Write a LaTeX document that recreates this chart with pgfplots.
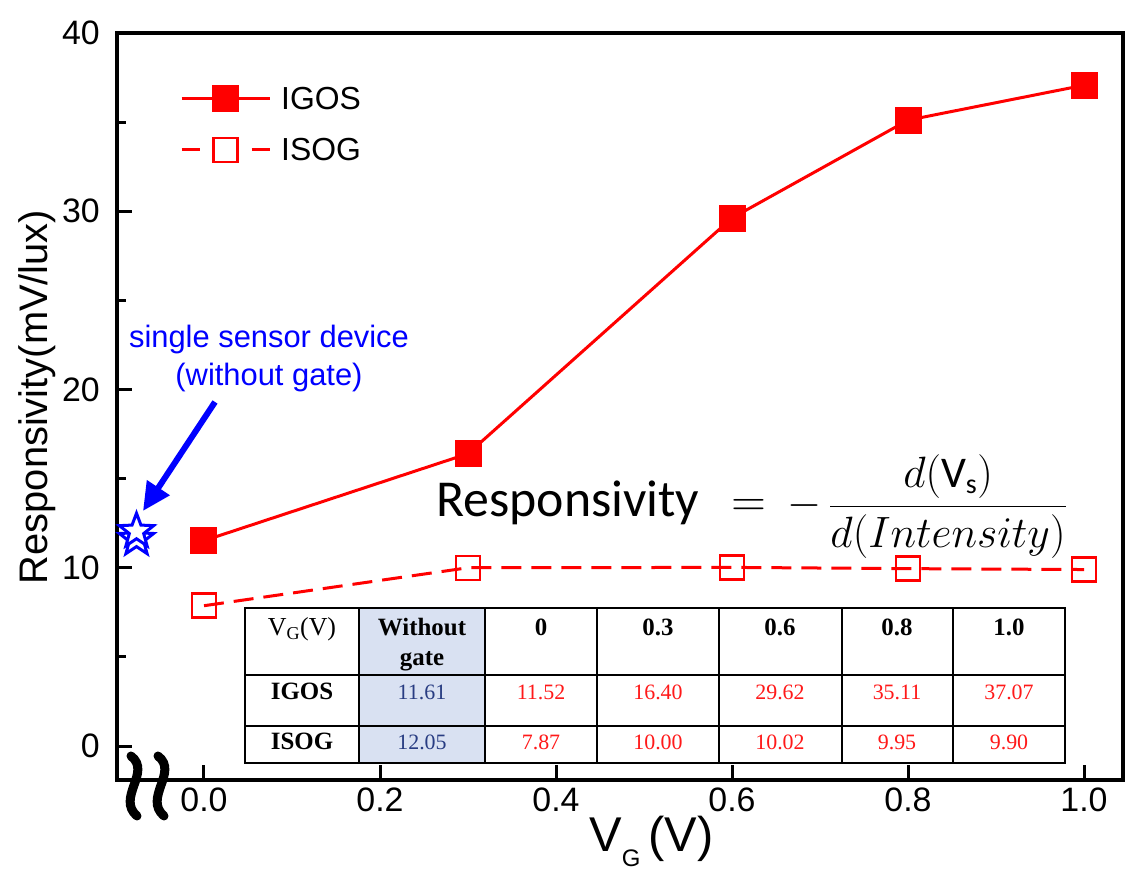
\RequirePackage{fix-cm}
\documentclass[border=0pt]{standalone}
\usepackage{fontspec}
\setmainfont{Liberation Sans}
\newfontfamily\tnr{Liberation Serif}
\newfontfamily\carlito{Carlito}
\usepackage{pgfplots}
\pgfplotsset{compat=1.18}
\usetikzlibrary{arrows.meta}

\definecolor{myred}{RGB}{255,0,0}
\definecolor{myblue}{RGB}{0,0,255}
\definecolor{cellblue}{RGB}{217,225,242}
\definecolor{darkval}{RGB}{40,60,130}
\definecolor{tabred}{RGB}{255,25,25}

\pgfdeclareplotmark{ostar}{%
  \pgfpathmoveto{\pgfpointpolar{90}{\pgfplotmarksize}}%
  \pgfpathlineto{\pgfpointpolar{126}{0.42\pgfplotmarksize}}%
  \pgfpathlineto{\pgfpointpolar{162}{\pgfplotmarksize}}%
  \pgfpathlineto{\pgfpointpolar{198}{0.42\pgfplotmarksize}}%
  \pgfpathlineto{\pgfpointpolar{234}{\pgfplotmarksize}}%
  \pgfpathlineto{\pgfpointpolar{270}{0.42\pgfplotmarksize}}%
  \pgfpathlineto{\pgfpointpolar{306}{\pgfplotmarksize}}%
  \pgfpathlineto{\pgfpointpolar{342}{0.42\pgfplotmarksize}}%
  \pgfpathlineto{\pgfpointpolar{18}{\pgfplotmarksize}}%
  \pgfpathlineto{\pgfpointpolar{54}{0.42\pgfplotmarksize}}%
  \pgfpathclose
  \pgfusepathqfillstroke
}

\begin{document}
\begin{tikzpicture}
\useasboundingbox (0,0) rectangle (1126bp,870bp);
\begin{axis}[
  at={(117bp,90bp)}, anchor=south west,
  width=1006bp, height=747bp, scale only axis,
  xmin=-0.09886, xmax=1.04432, ymin=-1.907, ymax=40,
  axis line style={line width=3.5bp},
  xtick={0,0.2,0.4,0.6,0.8,1.0},
  xticklabels={0.0,0.2,0.4,0.6,0.8,1.0},
  ytick={0,10,20,30,40},
  minor ytick={5,15,25,35},
  tick align=inside,
  xtick pos=left, ytick pos=left,
  major tick length=15bp, minor tick length=9bp,
  every tick/.style={black, line width=3bp},
  /pgf/number format/assume math mode=true,
  ticklabel style={font=\fontsize{34}{34}\selectfont},
  xticklabel style={inner sep=0pt, yshift=-8bp},
  yticklabel style={inner sep=0pt, xshift=-17bp},
  clip=false,
  legend cell align=left,
  legend style={at={(0.0626,0.928)}, anchor=north west, draw=none, fill=none,
    inner sep=0pt, row sep=27bp, column sep=10bp,
    font=\fontsize{32}{32}\selectfont, nodes={inner sep=0pt}},
  legend image code/.code={\draw[mark repeat=2, mark phase=2] plot coordinates {(0bp,0bp) (44bp,0bp) (88bp,0bp)};},
]
\addplot[myred, line width=3bp, mark=square*, mark size=12bp, mark options={solid}]
  coordinates {(0,11.52) (0.3,16.40) (0.6,29.62) (0.8,35.11) (1.0,37.07)};
\addlegendentry{IGOS}
\addplot[myred, line width=3bp, dash pattern=on 20bp off 10bp, mark=square, mark size=12bp,
  mark options={solid, fill=white, line width=2.5bp},
  legend image post style={dash pattern=on 18bp off 52bp}]
  coordinates {(0,7.87) (0.3,10.00) (0.6,10.02) (0.8,9.95) (1.0,9.90)};
\addlegendentry{ISOG}
\addplot[myblue, only marks, mark=ostar, mark size=18bp, mark options={fill=white, line width=3bp}, forget plot]
  coordinates {(-0.0767,11.61) (-0.0767,12.05)};
\end{axis}

\begin{scope}[shift={(0bp,870bp)}, x=1bp, y=-1bp]
% axis labels
\node[rotate=90, anchor=base, inner sep=0pt, font=\fontsize{40}{40}\selectfont] at (47,397) {Responsivity(mV/lux)};
\node[anchor=base west, inner sep=0pt, font=\fontsize{49}{49}\selectfont] at (589,852)
  {V\raisebox{-15bp}{\fontsize{24}{24}\selectfont G}\hspace{8bp}(V)};
% annotation
\node[anchor=base, inner sep=0pt, text=myblue, font=\fontsize{31}{31}\selectfont] at (269,348) {single sensor device};
\node[anchor=base, inner sep=0pt, text=myblue, font=\fontsize{31}{31}\selectfont] at (269,386) {(without gate)};
\draw[myblue, line width=6bp, -{Triangle[length=28bp, width=26bp]}] (215,402) -- (143,511);
% axis break marks
\draw[line width=9bp, line cap=round] (131,756) .. controls (152,772) and (116,798) .. (137,816);
\draw[line width=9bp, line cap=round] (158,756) .. controls (179,772) and (143,798) .. (164,816);
% equation
\node[anchor=base west, inner sep=0pt, font=\carlito\fontsize{52}{52}\selectfont] at (436,517)
  {Responsivity\hspace{32bp}{\fontsize{48}{48}\selectfont$=$}\hspace{22bp}{\fontsize{44}{44}\selectfont$-\,\displaystyle\frac{d(\mbox{\carlito V}_{\mbox{\carlito\fontsize{28}{28}\selectfont s}})}{d(Intensity)}$}};
% table
\fill[white] (245,608) rectangle (1065,763);
\fill[cellblue] (359,608) rectangle (485,763);
\foreach \x in {359,485,597,719,842,953} \draw[line width=2bp] (\x,608) -- (\x,763);
\foreach \y in {675,726} \draw[line width=2bp] (245,\y) -- (1065,\y);
\draw[line width=2bp] (245,608) rectangle (1065,763);
\begin{scope}[every node/.style={anchor=base, inner sep=0pt}]
\node[font=\tnr\fontsize{26}{26}\selectfont] at (302,636) {V\textsubscript{G}(V)};
\node[font=\tnr\bfseries\fontsize{25}{25}\selectfont] at (422,636) {Without};
\node[font=\tnr\bfseries\fontsize{25}{25}\selectfont] at (422,666) {gate};
\node[font=\tnr\bfseries\fontsize{25}{25}\selectfont] at (541,636) {0};
\node[font=\tnr\bfseries\fontsize{25}{25}\selectfont] at (658,636) {0.3};
\node[font=\tnr\bfseries\fontsize{25}{25}\selectfont] at (780,636) {0.6};
\node[font=\tnr\bfseries\fontsize{25}{25}\selectfont] at (897,636) {0.8};
\node[font=\tnr\bfseries\fontsize{25}{25}\selectfont] at (1009,636) {1.0};
\node[font=\tnr\bfseries\fontsize{25}{25}\selectfont] at (302,700) {IGOS};
\node[font=\tnr\bfseries\fontsize{25}{25}\selectfont] at (302,750) {ISOG};
\node[font=\tnr\fontsize{22}{22}\selectfont, text=darkval] at (422,700) {11.61};
\node[font=\tnr\fontsize{22}{22}\selectfont, text=darkval] at (422,750) {12.05};
\node[font=\tnr\fontsize{22}{22}\selectfont, text=tabred] at (541,700) {11.52};
\node[font=\tnr\fontsize{22}{22}\selectfont, text=tabred] at (658,700) {16.40};
\node[font=\tnr\fontsize{22}{22}\selectfont, text=tabred] at (780,700) {29.62};
\node[font=\tnr\fontsize{22}{22}\selectfont, text=tabred] at (897,700) {35.11};
\node[font=\tnr\fontsize{22}{22}\selectfont, text=tabred] at (1009,700) {37.07};
\node[font=\tnr\fontsize{22}{22}\selectfont, text=tabred] at (541,750) {7.87};
\node[font=\tnr\fontsize{22}{22}\selectfont, text=tabred] at (658,750) {10.00};
\node[font=\tnr\fontsize{22}{22}\selectfont, text=tabred] at (780,750) {10.02};
\node[font=\tnr\fontsize{22}{22}\selectfont, text=tabred] at (897,750) {9.95};
\node[font=\tnr\fontsize{22}{22}\selectfont, text=tabred] at (1009,750) {9.90};
\end{scope}
\end{scope}
\end{tikzpicture}
\end{document}
